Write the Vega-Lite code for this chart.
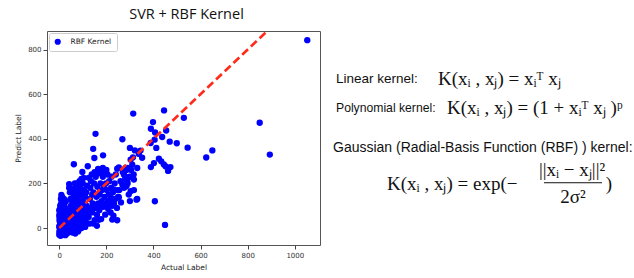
{
  "$schema": "https://vega.github.io/schema/vega-lite/v6.json",
  "background": "white",
  "padding": {"left": 14, "top": 6, "right": 0, "bottom": 4},
  "spacing": 9,
  "config": {
    "view": {"stroke": "#555", "strokeWidth": 1},
    "axis": {"labelFont": "DejaVu Sans", "titleFont": "DejaVu Sans", "labelFontSize": 7, "titleFontSize": 7.5, "titleFontWeight": "normal", "labelColor": "#333", "titleColor": "#222", "tickColor": "#444", "tickSize": 4, "labelPadding": 2, "grid": false, "domain": false, "format": "d"}
  },
  "hconcat": [
    {
      "width": 273,
      "height": 214,
      "title": {"text": "SVR + RBF Kernel", "fontSize": 14.5, "font": "Open Sans", "fontWeight": "normal", "color": "#111", "anchor": "middle", "offset": 9, "dx": 3},
      "layer": [
        {
          "data": {"values": [
            {"a":1053,"p":842},{"a":314,"p":513},{"a":445,"p":527},{"a":529,"p":494},{"a":398,"p":475},{"a":389,"p":445},{"a":407,"p":428},{"a":851,"p":472},{"a":154,"p":422},{"a":268,"p":398},{"a":437,"p":408},{"a":454,"p":437},{"a":300,"p":359},{"a":321,"p":348},{"a":345,"p":347},{"a":352,"p":315},{"a":144,"p":355},{"a":149,"p":314},{"a":186,"p":326},{"a":98,"p":251},{"a":121,"p":277},{"a":62,"p":286},{"a":42,"p":197},{"a":9,"p":148},{"a":388,"p":381},{"a":412,"p":359},{"a":469,"p":387},{"a":499,"p":380},{"a":545,"p":360},{"a":624,"p":316},{"a":650,"p":348},{"a":894,"p":329},{"a":389,"p":273},{"a":423,"p":311},{"a":433,"p":299},{"a":444,"p":285},{"a":462,"p":256},{"a":472,"p":273},{"a":452,"p":276},{"a":406,"p":120},{"a":449,"p":14},{"a":316,"p":240},{"a":317,"p":170},{"a":331,"p":130},{"a":300,"p":121},{"a":303,"p":165},{"a":232,"p":172},{"a":225,"p":38},{"a":246,"p":35},{"a":168,"p":37},{"a":115,"p":20},{"a":338,"p":332},{"a":313,"p":317},{"a":303,"p":306},{"a":310,"p":284},{"a":282,"p":269},{"a":331,"p":269},{"a":253,"p":272},{"a":317,"p":217},{"a":268,"p":194},{"a":289,"p":209},{"a":275,"p":239},{"a":297,"p":229},{"a":246,"p":266},{"a":285,"p":187},{"a":253,"p":138},{"a":402,"p":291},{"a":405,"p":396},{"a":328,"p":127},
            {"a":0,"p":-30},{"a":2,"p":-20},{"a":5,"p":-35},{"a":8,"p":-25},{"a":12,"p":-30},{"a":15,"p":-18},{"a":3,"p":-10},{"a":6,"p":0},{"a":1,"p":10},{"a":4,"p":20},{"a":0,"p":5},{"a":2,"p":30},{"a":7,"p":40},{"a":9,"p":15},{"a":11,"p":-5},{"a":14,"p":5},{"a":18,"p":-10},{"a":20,"p":-28},{"a":22,"p":0},{"a":25,"p":10},{"a":28,"p":-15},{"a":30,"p":-5},{"a":33,"p":15},{"a":35,"p":0},{"a":38,"p":-20},{"a":10,"p":25},{"a":13,"p":35},{"a":16,"p":50},{"a":19,"p":20},{"a":21,"p":45},{"a":24,"p":30},{"a":27,"p":55},{"a":30,"p":40},{"a":3,"p":50},{"a":5,"p":60},{"a":8,"p":70},{"a":0,"p":80},{"a":2,"p":65},{"a":6,"p":90},{"a":10,"p":85},{"a":12,"p":60},{"a":15,"p":75},{"a":18,"p":95},{"a":4,"p":-28},{"a":9,"p":-32},{"a":16,"p":-25},{"a":23,"p":-22},{"a":26,"p":-32},{"a":32,"p":-25},{"a":36,"p":-10},{"a":40,"p":5},{"a":42,"p":-15},{"a":45,"p":20},{"a":48,"p":0},{"a":50,"p":-10},{"a":40,"p":30},{"a":44,"p":50},{"a":36,"p":65},{"a":32,"p":80},{"a":26,"p":90},{"a":22,"p":110},{"a":14,"p":120},{"a":8,"p":110},{"a":4,"p":100},{"a":1,"p":40},{"a":0,"p":55},{"a":7,"p":130},{"a":12,"p":140},{"a":20,"p":130},{"a":28,"p":120},{"a":1,"p":-15},{"a":17,"p":0},{"a":31,"p":25},{"a":37,"p":45},{"a":47,"p":35},
            {"a":52,"p":15},{"a":55,"p":40},{"a":58,"p":60},{"a":60,"p":80},{"a":62,"p":25},{"a":65,"p":5},{"a":68,"p":45},{"a":70,"p":95},{"a":72,"p":65},{"a":75,"p":30},{"a":78,"p":110},{"a":80,"p":50},{"a":82,"p":80},{"a":85,"p":130},{"a":88,"p":20},{"a":90,"p":100},{"a":92,"p":60},{"a":95,"p":150},{"a":98,"p":40},{"a":100,"p":120},{"a":102,"p":85},{"a":105,"p":170},{"a":108,"p":60},{"a":110,"p":140},{"a":112,"p":30},{"a":115,"p":100},{"a":118,"p":190},{"a":120,"p":75},{"a":55,"p":120},{"a":60,"p":140},{"a":65,"p":160},{"a":70,"p":180},{"a":75,"p":200},{"a":80,"p":160},{"a":85,"p":175},{"a":90,"p":190},{"a":50,"p":100},{"a":48,"p":130},{"a":45,"p":160},{"a":42,"p":180},{"a":58,"p":175},{"a":66,"p":200},{"a":72,"p":135},{"a":78,"p":150},{"a":86,"p":210},{"a":94,"p":220},{"a":100,"p":200},{"a":104,"p":225},{"a":56,"p":-20},{"a":62,"p":-10},{"a":70,"p":10},{"a":76,"p":0},{"a":84,"p":-5},{"a":92,"p":15},{"a":100,"p":10},{"a":108,"p":25},{"a":114,"p":45},{"a":96,"p":70},{"a":88,"p":115},{"a":74,"p":125},{"a":64,"p":105},{"a":54,"p":85},{"a":46,"p":70},{"a":68,"p":-25},{"a":80,"p":-15},{"a":95,"p":0},{"a":110,"p":5},{"a":120,"p":20},{"a":103,"p":45},{"a":82,"p":35},{"a":50,"p":55},{"a":115,"p":160},{"a":107,"p":110},
            {"a":125,"p":50},{"a":128,"p":90},{"a":130,"p":130},{"a":132,"p":180},{"a":135,"p":210},{"a":138,"p":240},{"a":140,"p":70},{"a":142,"p":110},{"a":145,"p":160},{"a":148,"p":200},{"a":150,"p":35},{"a":152,"p":90},{"a":155,"p":230},{"a":158,"p":140},{"a":160,"p":60},{"a":162,"p":185},{"a":165,"p":110},{"a":168,"p":245},{"a":170,"p":80},{"a":172,"p":150},{"a":175,"p":200},{"a":178,"p":40},{"a":180,"p":120},{"a":182,"p":170},{"a":185,"p":230},{"a":188,"p":95},{"a":190,"p":255},{"a":192,"p":140},{"a":195,"p":60},{"a":198,"p":200},{"a":200,"p":110},{"a":202,"p":170},{"a":205,"p":240},{"a":208,"p":85},{"a":210,"p":150},{"a":212,"p":210},{"a":215,"p":125},{"a":218,"p":70},{"a":220,"p":180},{"a":222,"p":230},{"a":225,"p":100},{"a":228,"p":160},{"a":230,"p":55},{"a":235,"p":200},{"a":238,"p":130},{"a":240,"p":240},{"a":245,"p":90},{"a":248,"p":170},{"a":130,"p":20},{"a":145,"p":20},{"a":160,"p":10},{"a":175,"p":95},{"a":190,"p":180},{"a":205,"p":120},{"a":220,"p":135},{"a":150,"p":250},{"a":165,"p":265},{"a":185,"p":270},{"a":200,"p":260},{"a":210,"p":100},{"a":232,"p":110},{"a":250,"p":140},{"a":255,"p":170},{"a":260,"p":210},{"a":262,"p":115},{"a":270,"p":250},{"a":275,"p":180},{"a":280,"p":220},{"a":285,"p":260},{"a":290,"p":200},{"a":295,"p":150},{"a":300,"p":230},{"a":305,"p":260},{"a":290,"p":270},{"a":140,"p":150},{"a":125,"p":225},{"a":135,"p":90}
          ]},
          "mark": {"type": "circle", "size": 40, "opacity": 1},
          "encoding": {
            "x": {"field": "a", "type": "quantitative", "scale": {"domain": [-52, 1107], "nice": false, "zero": false}, "axis": {"values": [0, 200, 400, 600, 800, 1000], "title": "Actual Label", "titlePadding": 5}},
            "y": {"field": "p", "type": "quantitative", "scale": {"domain": [-76, 883], "nice": false, "zero": false}, "axis": {"values": [0, 200, 400, 600, 800], "title": "Predict Label", "titlePadding": 5}},
            "color": {"datum": "RBF Kernel", "type": "nominal", "scale": {"range": ["#0000ff"]}, "legend": {"orient": "top-left", "title": null, "strokeColor": "#cccccc", "fillColor": "white", "padding": 5, "offset": 2, "labelFont": "DejaVu Sans", "labelFontSize": 7.5, "labelColor": "#222", "labelOffset": 9, "symbolType": "circle", "symbolSize": 38, "symbolStrokeWidth": 0, "cornerRadius": 2}}
          }
        },
        {
          "data": {"values": [{"a": 0, "p": 0}, {"a": 900, "p": 900}]},
          "mark": {"type": "line", "color": "#ff2a1a", "strokeWidth": 2.6, "strokeDash": [8, 4], "clip": true},
          "encoding": {
            "x": {"field": "a", "type": "quantitative"},
            "y": {"field": "p", "type": "quantitative"}
          }
        }
      ]
    },
    {
      "width": 300,
      "height": 214,
      "view": {"stroke": null},
      "layer": [
        {
          "data": {"values": [{"t": "Linear kernel:"}]},
          "mark": {"type": "text", "align": "left", "baseline": "middle", "font": "Liberation Sans", "fontSize": 13.5, "color": "#111"},
          "encoding": {"text": {"field": "t"}, "x": {"datum": 6, "type": "quantitative", "scale": {"domain": [0, 300]}, "axis": null}, "y": {"datum": 49, "type": "quantitative", "scale": {"domain": [214, 0]}, "axis": null}}
        },
        {
          "data": {"values": [{"t": "Polynomial kernel:"}]},
          "mark": {"type": "text", "align": "left", "baseline": "middle", "font": "Liberation Sans", "fontSize": 12.2, "color": "#111"},
          "encoding": {"text": {"field": "t"}, "x": {"datum": 6, "type": "quantitative"}, "y": {"datum": 79, "type": "quantitative"}}
        },
        {
          "data": {"values": [{"t": "Gaussian (Radial-Basis Function (RBF) ) kernel:"}]},
          "mark": {"type": "text", "align": "left", "baseline": "middle", "font": "Liberation Sans", "fontSize": 14, "color": "#111"},
          "encoding": {"text": {"field": "t"}, "x": {"datum": 3, "type": "quantitative"}, "y": {"datum": 120, "type": "quantitative"}}
        },
        {
          "data": {"values": [{"t": "K(xᵢ , xⱼ) = xᵢᵀ xⱼ"}]},
          "mark": {"type": "text", "align": "left", "baseline": "middle", "font": "Liberation Serif", "fontSize": 19, "color": "#111"},
          "encoding": {"text": {"field": "t"}, "x": {"datum": 108, "type": "quantitative"}, "y": {"datum": 49, "type": "quantitative"}}
        },
        {
          "data": {"values": [{"t": "K(xᵢ , xⱼ) = (1 + xᵢᵀ xⱼ )ᵖ"}]},
          "mark": {"type": "text", "align": "left", "baseline": "middle", "font": "Liberation Serif", "fontSize": 19, "color": "#111"},
          "encoding": {"text": {"field": "t"}, "x": {"datum": 117, "type": "quantitative"}, "y": {"datum": 79, "type": "quantitative"}}
        },
        {
          "data": {"values": [{"t": "K(xᵢ , xⱼ) = exp(−"}]},
          "mark": {"type": "text", "align": "left", "baseline": "middle", "font": "Liberation Serif", "fontSize": 19, "color": "#111"},
          "encoding": {"text": {"field": "t"}, "x": {"datum": 57, "type": "quantitative"}, "y": {"datum": 157, "type": "quantitative"}}
        },
        {
          "data": {"values": [{"t": "||xᵢ − xⱼ||²"}]},
          "mark": {"type": "text", "align": "center", "baseline": "middle", "font": "Liberation Serif", "fontSize": 19, "color": "#111"},
          "encoding": {"text": {"field": "t"}, "x": {"datum": 242, "type": "quantitative"}, "y": {"datum": 143, "type": "quantitative"}}
        },
        {
          "data": {"values": [{"t": "2σ²"}]},
          "mark": {"type": "text", "align": "center", "baseline": "middle", "font": "Liberation Serif", "fontSize": 19, "color": "#111"},
          "encoding": {"text": {"field": "t"}, "x": {"datum": 243, "type": "quantitative"}, "y": {"datum": 171, "type": "quantitative"}}
        },
        {
          "data": {"values": [{"t": ")"}]},
          "mark": {"type": "text", "align": "center", "baseline": "middle", "font": "Liberation Serif", "fontSize": 19, "color": "#111"},
          "encoding": {"text": {"field": "t"}, "x": {"datum": 279, "type": "quantitative"}, "y": {"datum": 157, "type": "quantitative"}}
        },
        {
          "data": {"values": [{"t": "bar"}]},
          "mark": {"type": "rule", "color": "#111", "strokeWidth": 1},
          "encoding": {"x": {"datum": 214, "type": "quantitative"}, "x2": {"datum": 272}, "y": {"datum": 156, "type": "quantitative"}}
        }
      ]
    }
  ]
}
